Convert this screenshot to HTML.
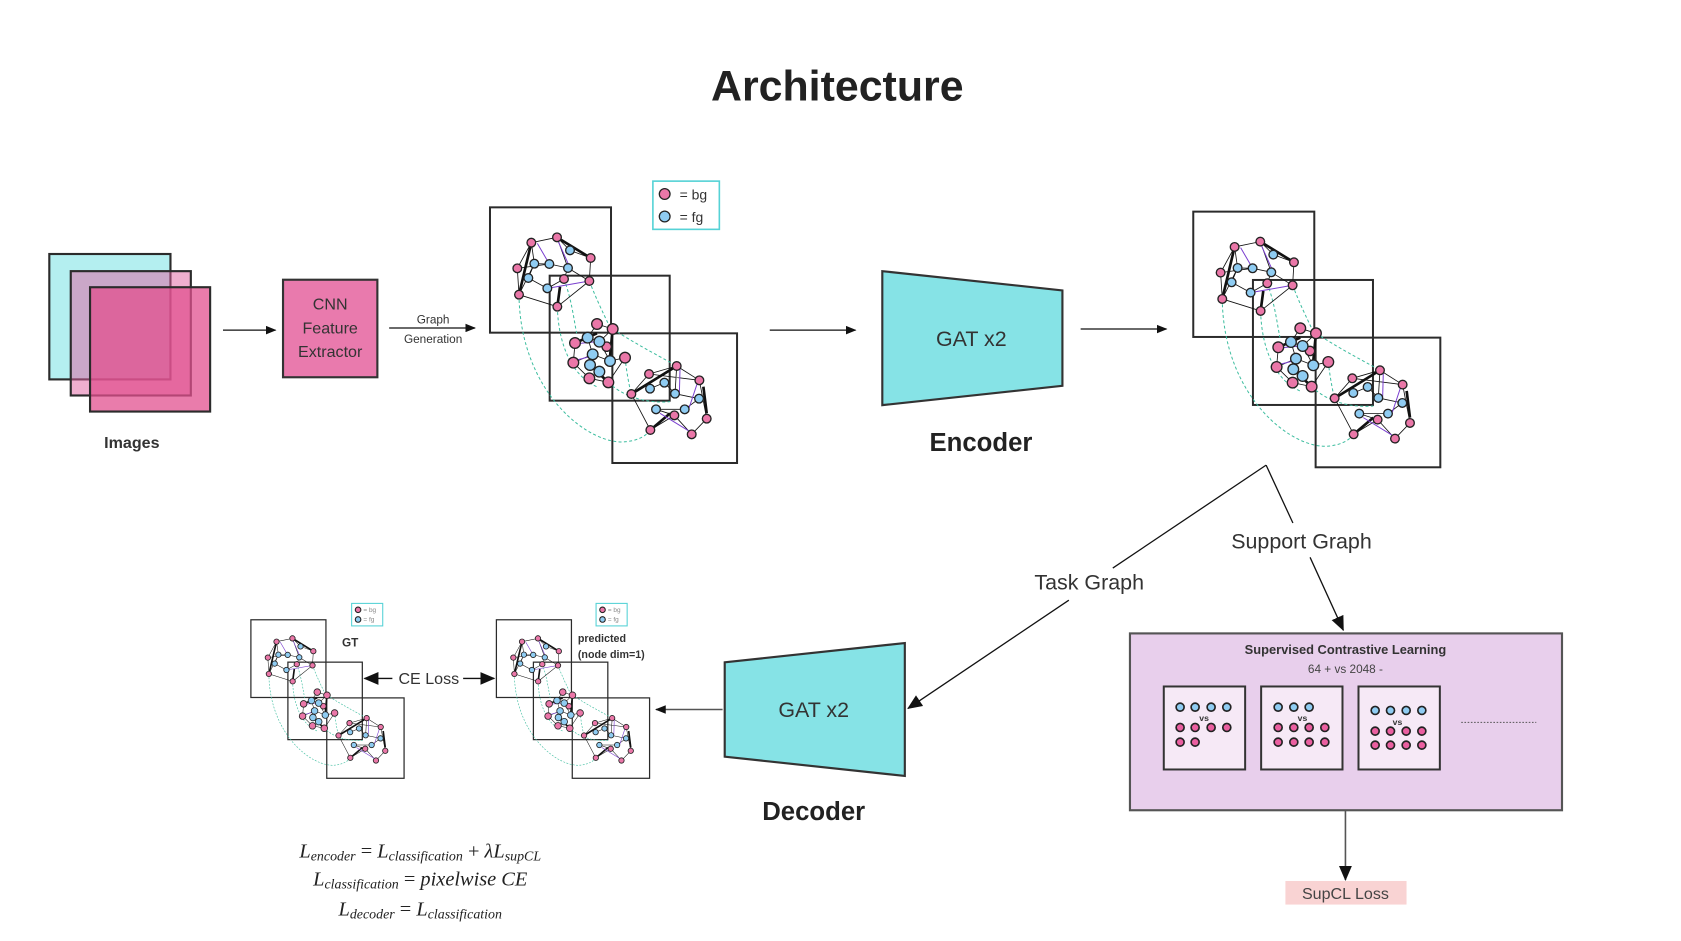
<!DOCTYPE html>
<html><head><meta charset="utf-8"><style>
html,body{margin:0;padding:0;background:#fff;}
svg{display:block;}
text{font-family:"Liberation Sans",sans-serif;}
text.eq{font-family:"Liberation Serif",serif;font-style:italic;}
</style></head><body>
<svg width="1681" height="941" viewBox="0 0 1568 878" preserveAspectRatio="none" xmlns="http://www.w3.org/2000/svg">
<defs>
<marker id="ah" markerWidth="10" markerHeight="8" refX="9" refY="4" orient="auto" markerUnits="userSpaceOnUse"><path d="M0,0 L10,4 L0,8 Z" fill="#111"/></marker>
<marker id="ahb" markerWidth="14" markerHeight="12" refX="13" refY="6" orient="auto" markerUnits="userSpaceOnUse"><path d="M0,0 L14,6 L0,12 Z" fill="#111"/></marker>
<g id="graph">
 <g fill="none" stroke="#2b2b2b" stroke-width="6">
  <rect x="150" y="142" width="363" height="376"/>
  <rect x="329" y="347" width="360" height="375"/>
  <rect x="517" y="520" width="374" height="389"/>
 </g>
 <g fill="none" stroke="#3dbd9f" stroke-width="3" stroke-dasharray="9,7">
  <path d="M237,404 C240,700 450,860 560,845 C600,840 620,825 631,810"/>
  <path d="M352,440 C355,560 400,650 470,680"/>
  <path d="M448,363 C470,420 490,460 505,492"/>
  <path d="M372,357 C395,420 400,470 410,520"/>
  <path d="M518,507 C600,560 680,600 710,618"/>
  <path d="M505,667 C560,720 640,730 690,725"/>
  <path d="M555,593 C560,640 570,690 574,702"/>
 </g>
 <g stroke="#111" stroke-width="2.5" fill="none">
  <path d="M274,248L351,232M274,248L232,325M232,325L237,404M237,404L352,440M352,440L448,363M448,363L452,294M351,232L390,271M351,232L384,324M283,311L328,312M328,312L384,324M283,311L265,354M265,354L322,385M322,385L372,357M372,357L384,324M390,271L452,294M274,248L283,311M237,404L283,311M232,325L328,312M384,324L448,363"/>
  <path d="M471,492L518,507M405,549L443,533M443,533L478,545M478,545L518,507M405,549L400,608M400,608L448,655M448,655L505,667M505,667L555,593M555,593L510,603M458,583L510,603M450,615L478,635M443,533L458,583M400,608L458,583M478,545L510,603M471,492L443,533"/>
  <path d="M627,642L710,618M710,618L778,661M627,642L574,702M574,702L631,810M631,810L703,766M703,766L755,823M755,823L800,776M800,776L778,661M673,668L705,701M630,686L673,668M705,701L777,716M648,748L734,748M734,748L777,716M648,748L703,766M627,642L778,661M710,618L705,701"/>
 </g>
 <g stroke="#111" stroke-width="8" fill="none">
  <path d="M274,248L237,404M351,232L452,294M352,440L360,380"/>
  <path d="M405,549L471,520M450,615L505,667M518,507L510,590"/>
  <path d="M574,702L710,618M631,810L690,760M790,680L800,760"/>
 </g>
 <g stroke="#7a3fcf" stroke-width="3" fill="none">
  <path d="M292,250L328,312M355,245L384,310M322,385L448,363"/>
  <path d="M420,550L470,545M410,600L450,590"/>
  <path d="M720,625L718,700M775,660L745,750M660,760L750,815"/>
 </g>
 <g fill="#ea77a8" stroke="#222" stroke-width="4">
  <circle cx="274" cy="248" r="13"/><circle cx="351" cy="232" r="13"/><circle cx="452" cy="294" r="13"/><circle cx="232" cy="325" r="13"/><circle cx="372" cy="357" r="13"/><circle cx="448" cy="363" r="13"/><circle cx="237" cy="404" r="13"/><circle cx="352" cy="440" r="13"/>
  <circle cx="471" cy="492" r="16"/><circle cx="518" cy="507" r="16"/><circle cx="405" cy="549" r="16"/><circle cx="555" cy="593" r="16"/><circle cx="400" cy="608" r="16"/><circle cx="448" cy="655" r="16"/><circle cx="505" cy="667" r="16"/><circle cx="500" cy="560" r="14"/>
  <circle cx="627" cy="642" r="13"/><circle cx="710" cy="618" r="13"/><circle cx="778" cy="661" r="13"/><circle cx="574" cy="702" r="13"/><circle cx="703" cy="766" r="13"/><circle cx="800" cy="776" r="13"/><circle cx="631" cy="810" r="13"/><circle cx="755" cy="823" r="13"/>
 </g>
 <g fill="#8fccf2" stroke="#222" stroke-width="4">
  <circle cx="390" cy="271" r="13"/><circle cx="283" cy="311" r="13"/><circle cx="328" cy="312" r="13"/><circle cx="384" cy="324" r="13"/><circle cx="265" cy="354" r="13"/><circle cx="322" cy="385" r="13"/>
  <circle cx="443" cy="533" r="16"/><circle cx="478" cy="545" r="16"/><circle cx="458" cy="583" r="16"/><circle cx="510" cy="603" r="16"/><circle cx="450" cy="615" r="16"/><circle cx="478" cy="635" r="16"/>
  <circle cx="673" cy="668" r="13"/><circle cx="630" cy="686" r="13"/><circle cx="705" cy="701" r="13"/><circle cx="777" cy="716" r="13"/><circle cx="648" cy="748" r="13"/><circle cx="734" cy="748" r="13"/>
 </g>
</g>
</defs>

<text x="781" y="94" font-size="40" font-weight="bold" fill="#222" text-anchor="middle">Architecture</text>

<!-- Images -->
<rect x="46" y="237" width="113" height="117" fill="#b4eff0" stroke="#2b2b2b" stroke-width="2"/>
<rect x="66" y="253" width="112" height="116" fill="#e0609f" fill-opacity="0.5" stroke="#2b2b2b" stroke-width="2"/>
<rect x="84" y="268" width="112" height="116" fill="#e2508f" fill-opacity="0.75" stroke="#2b2b2b" stroke-width="2"/>
<text x="123" y="418" font-size="15" font-weight="bold" fill="#333" text-anchor="middle">Images</text>
<line x1="208" y1="308" x2="257" y2="308" stroke="#111" stroke-width="1.2" marker-end="url(#ah)"/>

<rect x="264" y="261" width="88" height="91" fill="#e97aad" stroke="#333" stroke-width="2"/>
<g font-size="15" fill="#333" text-anchor="middle"><text x="308" y="289">CNN</text><text x="308" y="311">Feature</text><text x="308" y="333">Extractor</text></g>

<line x1="363" y1="306" x2="443" y2="306" stroke="#111" stroke-width="1.2" marker-end="url(#ah)"/>
<text x="404" y="302" font-size="11" fill="#333" text-anchor="middle">Graph</text>
<text x="404" y="320" font-size="11" fill="#333" text-anchor="middle">Generation</text>

<use href="#graph" transform="translate(410.4,149.3) scale(0.311)"/>
<rect x="609" y="169" width="62" height="45" fill="#fff" stroke="#55d2d6" stroke-width="1.5"/>
<circle cx="620" cy="181" r="5" fill="#ea77a8" stroke="#222" stroke-width="1.2"/>
<circle cx="620" cy="202" r="5" fill="#8fccf2" stroke="#222" stroke-width="1.2"/>
<text x="634" y="186" font-size="13" fill="#333">= bg</text>
<text x="634" y="207" font-size="13" fill="#333">= fg</text>

<line x1="718" y1="308" x2="798" y2="308" stroke="#111" stroke-width="1.2" marker-end="url(#ah)"/>
<polygon points="823,253 991,271 991,360 823,378" fill="#86e3e6" stroke="#333" stroke-width="2"/>
<text x="906" y="323" font-size="20" fill="#333" text-anchor="middle">GAT x2</text>
<text x="915" y="421" font-size="24" font-weight="bold" fill="#222" text-anchor="middle">Encoder</text>
<line x1="1008" y1="307" x2="1088" y2="307" stroke="#111" stroke-width="1.2" marker-end="url(#ah)"/>

<use href="#graph" transform="translate(656,4) translate(410.4,149.3) scale(0.311)"/>

<!-- split lines -->
<line x1="1181" y1="434" x2="1038" y2="530" stroke="#111" stroke-width="1.2"/>
<text x="1016" y="550" font-size="20" fill="#333" text-anchor="middle">Task Graph</text>
<line x1="997" y1="560" x2="847" y2="661" stroke="#111" stroke-width="1.2" marker-end="url(#ahb)"/>
<line x1="1181" y1="434" x2="1206" y2="488" stroke="#111" stroke-width="1.2"/>
<text x="1214" y="512" font-size="20" fill="#333" text-anchor="middle">Support Graph</text>
<line x1="1222" y1="520" x2="1253" y2="588" stroke="#111" stroke-width="1.2" marker-end="url(#ahb)"/>

<!-- SupCL -->
<rect x="1054" y="591" width="403" height="165" fill="#e8cfec" stroke="#555" stroke-width="2"/>
<text x="1255" y="610" font-size="12" font-weight="bold" fill="#333" text-anchor="middle">Supervised Contrastive Learning</text>
<text x="1255" y="628" font-size="11" fill="#444" text-anchor="middle">64 + vs 2048 -</text>
<g transform="translate(979.5,541) scale(0.311)">
 <g fill="#f6e9f6" stroke="#333" stroke-width="6">
  <rect x="341" y="320" width="244" height="249"/><rect x="633" y="320" width="244" height="249"/><rect x="925" y="320" width="244" height="249"/>
 </g>
 <g stroke="#222" stroke-width="5" fill="#8fccf2">
  <circle cx="390" cy="382" r="12"/><circle cx="435" cy="382" r="12"/><circle cx="483" cy="382" r="12"/><circle cx="530" cy="382" r="12"/>
  <circle cx="684" cy="382" r="12"/><circle cx="731" cy="382" r="12"/><circle cx="777" cy="382" r="12"/>
  <circle cx="975" cy="392" r="12"/><circle cx="1021" cy="392" r="12"/><circle cx="1068" cy="392" r="12"/><circle cx="1115" cy="392" r="12"/>
 </g>
 <g stroke="#222" stroke-width="5" fill="#ea5fa0">
  <circle cx="390" cy="443" r="12"/><circle cx="435" cy="443" r="12"/><circle cx="483" cy="443" r="12"/><circle cx="530" cy="443" r="12"/><circle cx="390" cy="487" r="12"/><circle cx="435" cy="487" r="12"/>
  <circle cx="684" cy="443" r="12"/><circle cx="731" cy="443" r="12"/><circle cx="777" cy="443" r="12"/><circle cx="824" cy="443" r="12"/><circle cx="684" cy="487" r="12"/><circle cx="731" cy="487" r="12"/><circle cx="777" cy="487" r="12"/><circle cx="824" cy="487" r="12"/>
  <circle cx="975" cy="454" r="12"/><circle cx="1021" cy="454" r="12"/><circle cx="1068" cy="454" r="12"/><circle cx="1115" cy="454" r="12"/><circle cx="975" cy="496" r="12"/><circle cx="1021" cy="496" r="12"/><circle cx="1068" cy="496" r="12"/><circle cx="1115" cy="496" r="12"/>
 </g>
 <g font-size="26" font-weight="bold" fill="#333" text-anchor="middle"><text x="462" y="424">vs</text><text x="757" y="424">vs</text><text x="1042" y="436">vs</text></g>
</g>
<line x1="1363" y1="674" x2="1433" y2="674" stroke="#555" stroke-width="1" stroke-dasharray="1.5,1.5"/>
<line x1="1255" y1="756" x2="1255" y2="821" stroke="#555" stroke-width="1.5" marker-end="url(#ahb)"/>
<rect x="1199" y="822" width="113" height="22" fill="#f9d3d3"/>
<text x="1255" y="839" font-size="15" fill="#444" text-anchor="middle">SupCL Loss</text>

<!-- Decoder -->
<polygon points="676,618 844,600 844,724 676,706" fill="#86e3e6" stroke="#333" stroke-width="2"/>
<text x="759" y="669" font-size="20" fill="#333" text-anchor="middle">GAT x2</text>
<text x="759" y="765" font-size="24" font-weight="bold" fill="#222" text-anchor="middle">Decoder</text>
<line x1="674" y1="662" x2="612" y2="662" stroke="#555" stroke-width="1.5" marker-end="url(#ah)"/>

<!-- small graphs -->
<use href="#graph" transform="translate(234,578) scale(0.62) translate(-457,-193) translate(410.4,149.3) scale(0.311)"/>
<use href="#graph" transform="translate(463,578) scale(0.62) translate(-457,-193) translate(410.4,149.3) scale(0.311)"/>
<g>
 <rect x="328" y="563" width="29" height="21" fill="#fff" stroke="#55d2d6" stroke-width="1"/>
 <circle cx="334" cy="569" r="2.6" fill="#ea77a8" stroke="#222" stroke-width="1"/><circle cx="334" cy="578" r="2.6" fill="#8fccf2" stroke="#222" stroke-width="1"/>
 <text x="339" y="571" font-size="6" fill="#888">= bg</text><text x="339" y="580" font-size="6" fill="#888">= fg</text>
 <rect x="556" y="563" width="29" height="21" fill="#fff" stroke="#55d2d6" stroke-width="1"/>
 <circle cx="562" cy="569" r="2.6" fill="#ea77a8" stroke="#222" stroke-width="1"/><circle cx="562" cy="578" r="2.6" fill="#8fccf2" stroke="#222" stroke-width="1"/>
 <text x="567" y="571" font-size="6" fill="#888">= bg</text><text x="567" y="580" font-size="6" fill="#888">= fg</text>
</g>
<text x="319" y="603" font-size="11" font-weight="bold" fill="#333">GT</text>
<text x="539" y="599" font-size="10" font-weight="bold" fill="#333">predicted</text>
<text x="539" y="614" font-size="10" font-weight="bold" fill="#333">(node dim=1)</text>
<text x="400" y="638" font-size="15" fill="#333" text-anchor="middle">CE Loss</text>
<line x1="366" y1="633" x2="340" y2="633" stroke="#111" stroke-width="1.2" marker-end="url(#ahb)"/>
<line x1="432" y1="633" x2="461" y2="633" stroke="#111" stroke-width="1.2" marker-end="url(#ahb)"/>

<!-- equations -->
<g fill="#222" text-anchor="middle">
 <text class="eq" x="392" y="800" font-size="19">L<tspan font-size="13" dy="3">encoder</tspan><tspan dy="-3" font-style="normal"> = </tspan>L<tspan font-size="13" dy="3">classification</tspan><tspan dy="-3" font-style="normal"> + </tspan>λL<tspan font-size="13" dy="3">supCL</tspan></text>
 <text class="eq" x="392" y="826" font-size="19">L<tspan font-size="13" dy="3">classification</tspan><tspan dy="-3" font-style="normal"> = </tspan>pixelwise CE</text>
 <text class="eq" x="392" y="854" font-size="19">L<tspan font-size="13" dy="3">decoder</tspan><tspan dy="-3" font-style="normal"> = </tspan>L<tspan font-size="13" dy="3">classification</tspan></text>
</g>
</svg>
</body></html>
